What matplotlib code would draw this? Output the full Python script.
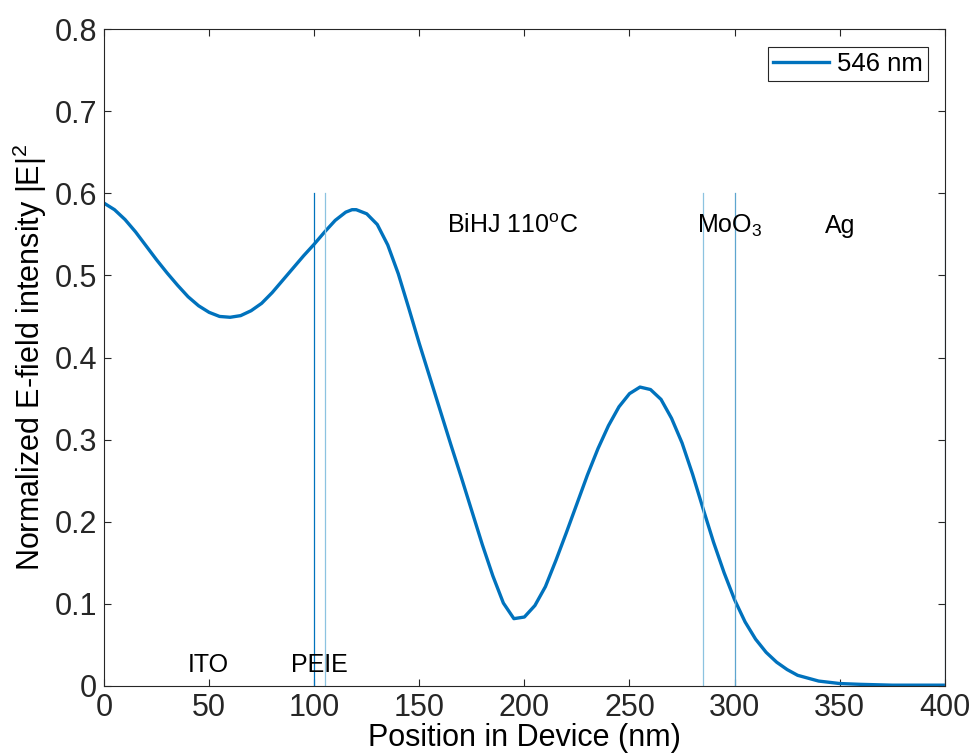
import matplotlib.pyplot as plt

plt.rcParams['font.family'] = ['Liberation Sans', 'DejaVu Sans']
plt.rcParams['mathtext.fontset'] = 'custom'
plt.rcParams['mathtext.rm'] = 'Liberation Sans'
plt.rcParams['mathtext.it'] = 'Liberation Sans'

# E-field profile at 546 nm
position = [0, 5, 10, 15, 20, 25, 30, 35, 40, 45, 50, 55, 60, 65, 70, 75, 80,
            85, 90, 95, 100, 105, 110, 115, 118, 120, 125, 130, 135, 140, 145,
            150, 155, 160, 165, 170, 175, 180, 185, 190, 195, 200, 205, 210,
            215, 220, 225, 230, 235, 240, 245, 250, 255, 260, 265, 270, 275,
            280, 285, 290, 295, 300, 305, 310, 315, 320, 325, 330, 340, 350,
            360, 375, 400]
intensity = [0.588, 0.580, 0.568, 0.553, 0.536, 0.519, 0.503, 0.488, 0.474,
             0.463, 0.455, 0.450, 0.449, 0.451, 0.457, 0.466, 0.479, 0.494,
             0.509, 0.524, 0.538, 0.553, 0.567, 0.577, 0.580, 0.580, 0.575,
             0.562, 0.537, 0.502, 0.460, 0.417, 0.376, 0.335, 0.294, 0.254,
             0.213, 0.172, 0.134, 0.101, 0.082, 0.084, 0.098, 0.121, 0.153,
             0.187, 0.222, 0.257, 0.289, 0.317, 0.340, 0.356, 0.364, 0.361,
             0.349, 0.326, 0.296, 0.258, 0.216, 0.175, 0.138, 0.105, 0.078,
             0.057, 0.041, 0.029, 0.020, 0.013, 0.006, 0.003, 0.002, 0.001,
             0.001]

# layer boundaries
boundaries = [100, 105, 285, 300, 400]
boundary_colors = ['#0072BD', '#8CC3E0', '#8CC3E0', '#5DA5CF', '#6A9FC0']

# layer labels
layer_names = ['ITO', 'PEIE', 'BiHJ 110$^{\\rm o}$C', 'MoO$_3$', 'Ag']
layer_x = [40, 89, 163, 282, 343]
layer_y = [0.025, 0.025, 0.56, 0.56, 0.56]

fig = plt.figure(figsize=(9.72, 7.56), dpi=100)
ax = fig.add_axes([0.107, 0.0926, 0.865, 0.869])

ax.plot(position, intensity, color='#0072BD', linewidth=2.4, label='546 nm')
for xb, c in zip(boundaries, boundary_colors):
    ax.plot([xb, xb], [0, 0.6], color=c, linewidth=0.9)

for name, tx, ty in zip(layer_names, layer_x, layer_y):
    ax.text(tx, ty, name, fontsize=18, va='center', ha='left', color='black')

ax.set_xlim(0, 400)
ax.set_ylim(0, 0.8)
ax.set_xticks(range(0, 401, 50))
ax.set_yticks([i / 10 for i in range(9)])
ax.set_yticklabels(['0'] + ['%.1f' % (i / 10) for i in range(1, 9)])
ax.tick_params(direction='in', length=5, width=0.8, labelsize=22,
               top=True, right=True, colors='#262626', pad=5)
for s in ax.spines.values():
    s.set_color('#262626')
    s.set_linewidth(0.8)

ax.set_xlabel('Position in Device (nm)', fontsize=22, labelpad=0)
ax.set_ylabel('Normalized E-field intensity |E|$^2$', fontsize=22, labelpad=4)

leg = ax.legend(loc='upper right', bbox_to_anchor=(0.980, 0.9726),
                fontsize=18.5, handlelength=2.2, handletextpad=0.3,
                borderpad=0.2, borderaxespad=0, fancybox=False,
                framealpha=1, edgecolor='#262626')
leg.get_frame().set_linewidth(0.8)

plt.savefig('out.png', dpi=100)
